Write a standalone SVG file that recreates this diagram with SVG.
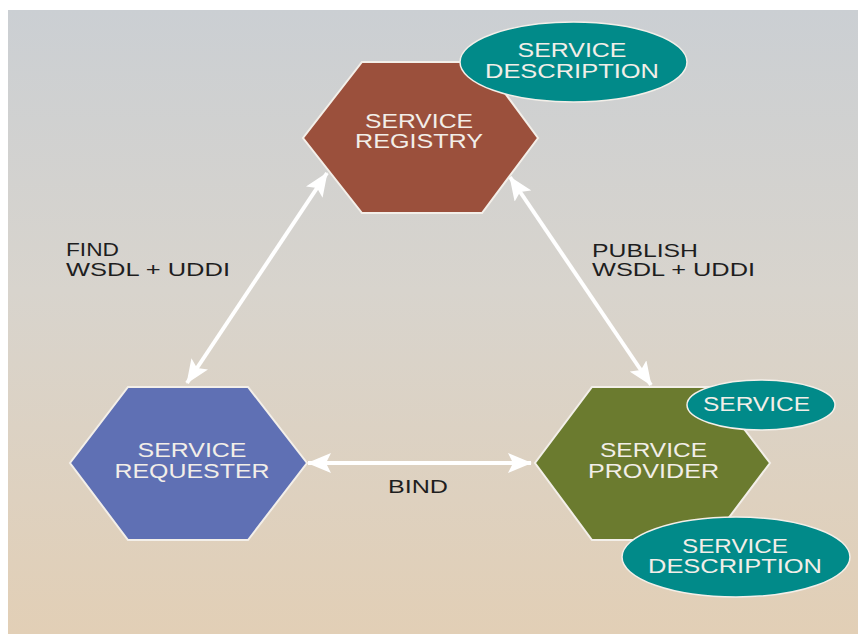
<svg xmlns="http://www.w3.org/2000/svg" width="858" height="634" viewBox="0 0 858 634">
  <defs>
    <linearGradient id="bg" x1="0" y1="0" x2="0" y2="1">
      <stop offset="0" stop-color="#cbcfd3"/>
      <stop offset="0.45" stop-color="#d8d4cd"/>
      <stop offset="1" stop-color="#e2cfb6"/>
    </linearGradient>
    <marker id="ah" markerUnits="userSpaceOnUse" markerWidth="24" markerHeight="20" refX="23" refY="10" orient="auto-start-reverse" viewBox="0 0 24 20">
      <path d="M0,0 L24,10 L0,20 L5,10 Z" fill="#ffffff"/>
    </marker>
  </defs>
  <style>
    .hex { stroke: #f3efe9; stroke-width: 2; }
    .oval { fill: #018a89; stroke: #f3efe9; stroke-width: 1.5; }
    .nt { font-family: "Liberation Sans", Arial, sans-serif; font-size: 20px; fill: #f2eee8; text-anchor: middle; }
    .lb { font-family: "Liberation Sans", Arial, sans-serif; font-size: 18px; fill: #1e1e1e; }
    .conn { stroke: #ffffff; stroke-width: 4; fill: none; marker-start: url(#ah); marker-end: url(#ah); }
  </style>
  <rect x="8" y="10" width="850" height="624" fill="url(#bg)"/>

  <g id="connectors">
    <line class="conn" x1="187" y1="383" x2="327" y2="173"/>
    <line class="conn" x1="510" y1="177" x2="651" y2="385"/>
    <line class="conn" x1="308" y1="463" x2="531" y2="463"/>
  </g>

  <g id="label-find">
    <text class="lb" x="66" y="256" textLength="53" lengthAdjust="spacingAndGlyphs">FIND</text>
    <text class="lb" x="66" y="276" textLength="164" lengthAdjust="spacingAndGlyphs">WSDL + UDDI</text>
  </g>
  <g id="label-publish">
    <text class="lb" x="592" y="257" textLength="106" lengthAdjust="spacingAndGlyphs">PUBLISH</text>
    <text class="lb" x="592" y="276" textLength="163" lengthAdjust="spacingAndGlyphs">WSDL + UDDI</text>
  </g>
  <g id="label-bind">
    <text class="lb" x="388" y="493" font-size="20" textLength="60" lengthAdjust="spacingAndGlyphs">BIND</text>
  </g>

  <g id="service-registry">
    <polygon class="hex" fill="#9b503c" points="362,62 482,62 538,138 482,213 362,213 303,138"/>
    <text class="nt" x="419" y="128" textLength="108" lengthAdjust="spacingAndGlyphs">SERVICE</text>
    <text class="nt" x="419" y="148" textLength="128" lengthAdjust="spacingAndGlyphs">REGISTRY</text>
  </g>

  <g id="registry-description">
    <ellipse class="oval" cx="573.5" cy="62" rx="113.5" ry="40"/>
    <text class="nt" x="572" y="57" textLength="109" lengthAdjust="spacingAndGlyphs">SERVICE</text>
    <text class="nt" x="572" y="78" textLength="174" lengthAdjust="spacingAndGlyphs">DESCRIPTION</text>
  </g>

  <g id="service-requester">
    <polygon class="hex" fill="#5f70b4" points="128,387 248,387 307,463 248,540 128,540 70,463"/>
    <text class="nt" x="192" y="457" textLength="109" lengthAdjust="spacingAndGlyphs">SERVICE</text>
    <text class="nt" x="192" y="478" textLength="155" lengthAdjust="spacingAndGlyphs">REQUESTER</text>
  </g>

  <g id="service-provider">
    <polygon class="hex" fill="#6b7b2f" points="592,387 712,387 770,463 712,540 592,540 535,463"/>
    <text class="nt" x="653.5" y="457" textLength="107" lengthAdjust="spacingAndGlyphs">SERVICE</text>
    <text class="nt" x="653.5" y="478" textLength="131" lengthAdjust="spacingAndGlyphs">PROVIDER</text>
  </g>

  <g id="service">
    <ellipse class="oval" cx="761" cy="405" rx="74" ry="25"/>
    <text class="nt" x="756.5" y="411" textLength="107" lengthAdjust="spacingAndGlyphs">SERVICE</text>
  </g>

  <g id="provider-description">
    <ellipse class="oval" cx="736" cy="557" rx="114" ry="40"/>
    <text class="nt" x="735" y="553" textLength="106" lengthAdjust="spacingAndGlyphs">SERVICE</text>
    <text class="nt" x="735" y="573" textLength="174" lengthAdjust="spacingAndGlyphs">DESCRIPTION</text>
  </g>
</svg>
